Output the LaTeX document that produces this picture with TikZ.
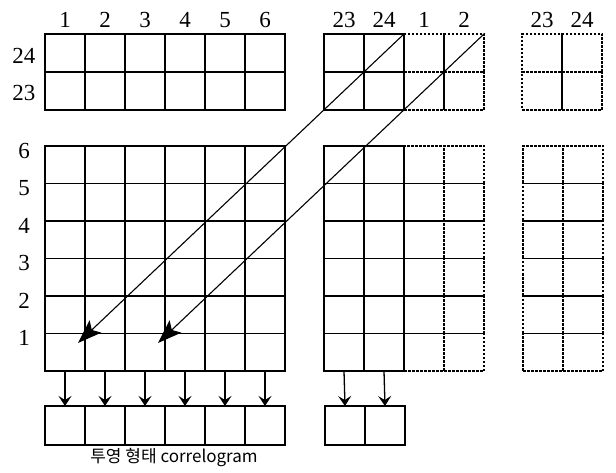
\documentclass[tikz,border=0pt]{standalone}
\usepackage{fontspec}
\setmainfont{Liberation Serif}
\newfontfamily\krfont{Noto Sans CJK KR}
\usetikzlibrary{arrows.meta,positioning}

\begin{document}
\begin{tikzpicture}[x=1pt, y=-1pt, >=Stealth, font=\fontsize{23}{25}\selectfont,
  cell/.style={draw, line width=1.4pt, minimum width=40pt, minimum height=37.5pt, inner sep=0pt, outer sep=0pt},
  dcell/.style={cell, line width=1.1pt, dash pattern=on 2.5pt off 1.5pt},
  lbl/.style={inner sep=0pt},
  diag/.style={-{Stealth[length=24pt,width=17pt,inset=5pt]}, line width=1.1pt},
  proj/.style={-{Stealth[length=10pt,width=13pt,inset=4pt]}, line width=1.3pt}]
  \useasboundingbox (0,0) rectangle (616,473);

  \node[lbl] (r24) at (24,56) {24};
  \node[lbl] (r23) at (24,93) {23};
  \foreach \c in {1,...,6} {
    \node[lbl] (c\c) at (25+40*\c,20) {\c};
    \node[cell, minimum height=38pt] (a-24-\c) at (25+40*\c,53) {};
    \node[cell, minimum height=38pt] (a-23-\c) at (25+40*\c,91) {};
  }
  \foreach \l [count=\k] in {23,24,1,2} {
    \node[lbl] (bl\k) at (304+40*\k,20) {\l};
    \ifnum\k<3 \def\sty{cell}\else\def\sty{dcell}\fi
    \node[\sty, minimum height=38pt] (b-24-\l) at (304+40*\k,53) {};
    \node[\sty, minimum height=38pt] (b-23-\l) at (304+40*\k,91) {};
  }
  \foreach \l [count=\k] in {23,24} {
    \node[lbl] (cl\k) at (502+40*\k,20) {\l};
    \node[dcell, minimum height=38pt] (c-24-\l) at (502+40*\k,53) {};
    \node[dcell, minimum height=38pt] (c-23-\l) at (502+40*\k,91) {};
  }

  \foreach \r in {1,...,6} {
    \node[lbl] (rl\r) at (24,375.5-37.5*\r) {\r};
    \foreach \c in {1,...,6}
      \node[cell] (m-\r-\c) at (25+40*\c,389.75-37.5*\r) {};
    \foreach \l [count=\k] in {23,24,1,2} {
      \ifnum\k<3 \def\sty{cell}\else\def\sty{dcell}\fi
      \node[\sty] (n-\r-\l) at (304+40*\k,389.75-37.5*\r) {};
    }
    \foreach \l [count=\k] in {23,24}
      \node[dcell] (o-\r-\l) at (503+40*\k,389.75-37.5*\r) {};
  }

  \coordinate (tip1) at (78,343);
  \coordinate (tip2) at (158,343);
  \draw[diag] (b-24-24.north east) -- (tip1);
  \draw[diag] (b-24-2.north east) -- (tip2);

  \foreach \c in {1,...,6} {
    \node[cell, minimum height=39pt] (p-\c) at (25+40*\c,425.5) {};
    \draw[proj] (m-1-\c.south) -- (p-\c.north);
  }
  \foreach \l [count=\k] in {23,24} {
    \node[cell, minimum height=39pt] (q-\l) at (305+40*\k,425.5) {};
    \draw[proj] (n-1-\l.south) -- (q-\l.north);
  }
  \node[lbl] (cap) at (174,458) {\krfont\fontsize{17}{19}\selectfont 투영 형태 correlogram};
\end{tikzpicture}
\end{document}
